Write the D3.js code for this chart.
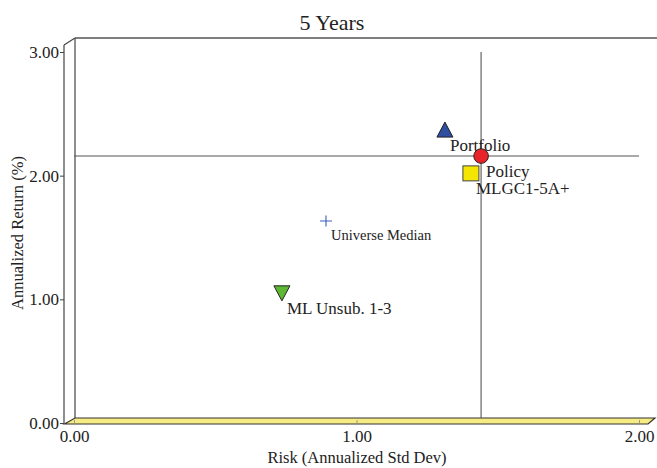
<!DOCTYPE html>
<html><head><meta charset="utf-8">
<script src="https://cdn.jsdelivr.net/npm/d3@7"></script>
<style>
body{margin:0;background:#fff;}
text{font-family:"Liberation Serif","Times New Roman",serif;fill:#222;}
</style></head>
<body><svg id="c" width="657" height="468"></svg>
<script>
const title = "5 Years";
const xTitle = "Risk (Annualized Std Dev)";
const yTitle = "Annualized Return (%)";
const xTicks = [0, 1, 2];
const yTicks = [0, 1, 2, 3];
const names = ["Portfolio", "Policy", "MLGC1-5A+", "Universe Median", "ML Unsub. 1-3"];
const risk = [1.313, 1.441, 1.405, 0.892, 0.736];
const ret  = [2.32, 2.11, 1.97, 1.585, 1.00];
const shapes = ["triangle", "circle", "square", "cross", "triangleDown"];
const fills = ["#2f4f9f", "#e8232a", "#f4e600", "#3a5cc0", "#5db833"];
const labelSizes = [17, 17, 17, 14.5, 17];

const svg = d3.select("#c");
const dx = 10, dy = -6;
const x = d3.scaleLinear().domain([0, 2]).range([74, 639]);
const yFront = d3.scaleLinear().domain([0, 3]).range([423, 52]);
const yBack = v => yFront(v) + dy;

// back wall left & top
svg.append("line").attr("x1", 75).attr("y1", 38).attr("x2", 75).attr("y2", 418).attr("stroke", "#444").attr("stroke-width", 1.2);
svg.append("line").attr("x1", 75).attr("y1", 38).attr("x2", 657).attr("y2", 38).attr("stroke", "#555").attr("stroke-width", 1.5);
svg.append("line").attr("x1", 64).attr("y1", 45).attr("x2", 75).attr("y2", 38).attr("stroke", "#444").attr("stroke-width", 1.2);

// floor
svg.append("polygon")
  .attr("points", [[64.5,424],[75,418],[655,418],[648,424]].map(p => p.join(",")).join(" "))
  .attr("fill", "#f7ec84").attr("stroke", "#333").attr("stroke-width", 1.2);

// front y axis
const yAxis = d3.axisLeft(yFront).tickValues(yTicks).tickFormat(d3.format(".2f")).tickSize(4).tickPadding(1);
const gy = svg.append("g").attr("transform", "translate(64,0)").call(yAxis);
gy.select(".domain").attr("d", "M0,45V424").attr("stroke", "#444").attr("stroke-width", 1.2);
gy.selectAll(".tick line").attr("stroke", "#444");
gy.selectAll(".tick text").attr("font-size", 17).attr("font-family", "Liberation Serif").attr("fill", "#222");

// x axis
const xAxis = d3.axisBottom(x).tickValues(xTicks).tickFormat(d3.format(".2f")).tickSize(0).tickPadding(5);
const gx = svg.append("g").attr("transform", "translate(0,424)").call(xAxis);
gx.select(".domain").remove();
gx.selectAll(".tick text").attr("font-size", 17).attr("font-family", "Liberation Serif").attr("fill", "#222").attr("dy", "0.75em");
gx.selectAll(".tick").append("line").attr("y1", -4).attr("y2", -1).attr("stroke", "#999");

// crosshair at Policy circle
const cx = x(risk[1]), cy = yBack(ret[1]);
svg.append("line").attr("x1", x(0)).attr("x2", x(2)).attr("y1", cy).attr("y2", cy).attr("stroke", "#555").attr("stroke-width", 1.1);
svg.append("line").attr("x1", cx).attr("x2", cx).attr("y1", yFront(3)).attr("y2", 418).attr("stroke", "#555").attr("stroke-width", 1.1);

// titles
svg.append("text").attr("x", 332).attr("y", 30).attr("text-anchor", "middle").attr("font-size", 22).text(title);
svg.append("text").attr("x", 357).attr("y", 463).attr("text-anchor", "middle").attr("font-size", 16.5).text(xTitle);
svg.append("text").attr("transform", "translate(23,233) rotate(-90)").attr("text-anchor", "middle").attr("font-size", 16.5).text(yTitle);

// markers
const pts = names.map((n, i) => ({n, x: x(risk[i]), y: yBack(ret[i]), s: shapes[i], f: fills[i], fs: labelSizes[i]}));
const g = svg.append("g");
pts.forEach(p => {
  if (p.s === "triangle") {
    g.append("path").attr("d", `M${p.x},${p.y-8}L${p.x+8},${p.y+7}L${p.x-8},${p.y+7}Z`).attr("fill", p.f).attr("stroke", "#222").attr("stroke-width", 1);
  } else if (p.s === "triangleDown") {
    g.append("path").attr("d", `M${p.x-8},${p.y-7.5}L${p.x+8},${p.y-7.5}L${p.x},${p.y+7.5}Z`).attr("fill", p.f).attr("stroke", "#222").attr("stroke-width", 1);
  } else if (p.s === "circle") {
    g.append("circle").attr("cx", p.x).attr("cy", p.y).attr("r", 7.3).attr("fill", p.f).attr("stroke", "#222").attr("stroke-width", 1);
  } else if (p.s === "square") {
    g.append("rect").attr("x", p.x-8).attr("y", p.y-7.5).attr("width", 16).attr("height", 15).attr("fill", p.f).attr("stroke", "#444").attr("stroke-width", 1);
  } else if (p.s === "cross") {
    g.append("path").attr("d", `M${p.x-6},${p.y}H${p.x+6}M${p.x},${p.y-5.5}V${p.y+5.5}`).attr("stroke", p.f).attr("stroke-width", 1.1);
  }
  g.append("text").attr("x", p.x + 5).attr("y", p.y + (p.fs < 16 ? 19 : 21)).attr("font-size", p.fs).text(p.n);
});
</script></body></html>
